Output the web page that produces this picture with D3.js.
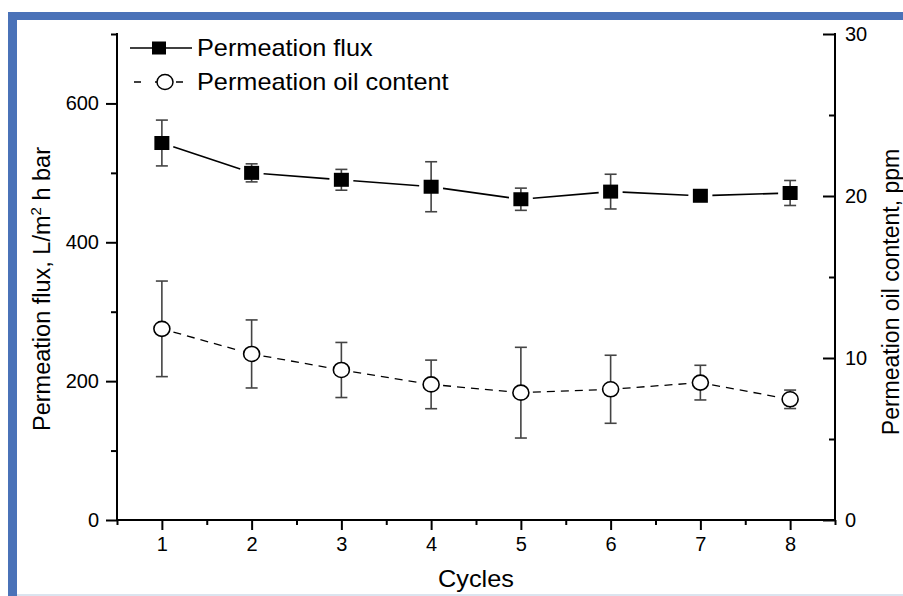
<!DOCTYPE html>
<html><head><meta charset="utf-8">
<script src="https://cdn.jsdelivr.net/npm/d3@7"></script>
<style>body{margin:0;background:#fff}svg{display:block}text{font-family:"Liberation Sans",Arial,sans-serif;fill:#000}</style>
</head><body>
<svg id="c" width="903" height="596"></svg>
<script>
const cycles = [1,2,3,4,5,6,7,8];
const fluxValues = [543,500,490,480,462,473,467,471];
const fluxErr = [33,13,15,36,16,25,4,18];
const oilValues = [11.8,10.25,9.26,8.37,7.86,8.07,8.48,7.45];
const oilErr = [2.95,2.1,1.7,1.5,2.8,2.1,1.07,0.57];
const leftTicks = [0,200,400,600];
const leftMinor = [100,300,500,700];
const rightTicks = [0,10,20,30];
const rightMinor = [5,15,25];
const xMinor = [0.5,1.5,2.5,3.5,4.5,5.5,6.5,7.5,8.5];
const seriesNames = ["Permeation flux","Permeation oil content"];

const svg = d3.select("#c");
const L=117,R=835,T=34,B=520;
const x = d3.scaleLinear().domain([0.5,8.5]).range([L,R]);
const yL = d3.scaleLinear().domain([0,700]).range([B,T]);
const yR = d3.scaleLinear().domain([0,30]).range([B,T]);

// frame decoration (blue border)
svg.append("rect").attr("x",8).attr("y",12).attr("width",895).attr("height",8).attr("fill","#4a72b8");
svg.append("rect").attr("x",8).attr("y",12).attr("width",9).attr("height",584).attr("fill","#4a72b8");
svg.append("rect").attr("x",17).attr("y",594).attr("width",886).attr("height",2).attr("fill","#dbe4ef");

const fs = 20;
function styleAxis(g){
  g.select(".domain").remove();
  g.selectAll("line").attr("stroke","#000").attr("stroke-width",2);
  g.selectAll("text").attr("font-size",fs).attr("font-family","Liberation Sans, Arial, sans-serif").attr("fill","#000");
}
// left axis
svg.append("g").attr("transform",`translate(${L},0)`).call(d3.axisLeft(yL).tickValues(leftTicks).tickSize(11).tickPadding(7)).call(styleAxis);
svg.append("g").attr("transform",`translate(${L},0)`).call(d3.axisLeft(yL).tickValues(leftMinor).tickSize(6).tickFormat("")).call(styleAxis);
// right axis (ticks inward)
svg.append("g").attr("transform",`translate(${R},0)`).call(d3.axisRight(yR).tickValues(rightTicks).tickSize(-12).tickPadding(10)).call(styleAxis);
svg.append("g").attr("transform",`translate(${R},0)`).call(d3.axisRight(yR).tickValues(rightMinor).tickSize(-6).tickFormat("")).call(styleAxis);
// bottom axis
svg.append("g").attr("transform",`translate(0,${B})`).call(d3.axisBottom(x).tickValues(cycles).tickSize(10).tickPadding(7)).call(styleAxis);
svg.append("g").attr("transform",`translate(0,${B})`).call(d3.axisBottom(x).tickValues(xMinor).tickSize(5).tickFormat("")).call(styleAxis);
// axis lines
svg.append("line").attr("x1",L).attr("x2",L).attr("y1",T-1).attr("y2",B+1).attr("stroke","#000").attr("stroke-width",2);
svg.append("line").attr("x1",R).attr("x2",R).attr("y1",T-1).attr("y2",B+1).attr("stroke","#000").attr("stroke-width",2);
svg.append("line").attr("x1",L-1).attr("x2",R+1).attr("y1",B).attr("y2",B).attr("stroke","#000").attr("stroke-width",2);

// data
const flux = cycles.map((c,i)=>({c,v:fluxValues[i],e:fluxErr[i]}));
const oil = cycles.map((c,i)=>({c,v:oilValues[i],e:oilErr[i]}));

function segments(data,y,gap){
  const out=[];
  for(let i=0;i<data.length-1;i++){
    const x1=x(data[i].c),y1=y(data[i].v),x2=x(data[i+1].c),y2=y(data[i+1].v);
    const dx=x2-x1,dy=y2-y1,len=Math.hypot(dx,dy),ux=dx/len,uy=dy/len;
    out.push([[x1+ux*gap,y1+uy*gap],[x2-ux*gap,y2-uy*gap]]);
  }
  return out;
}
const line = d3.line();
svg.append("g").selectAll("path").data(segments(flux,yL,12)).join("path")
  .attr("d",line).attr("stroke","#000").attr("stroke-width",1.6).attr("fill","none");
svg.append("g").selectAll("path").data(segments(oil,yR,12)).join("path")
  .attr("d",line).attr("stroke","#000").attr("stroke-width",1.3).attr("fill","none").attr("stroke-dasharray","8,6");

function errBars(data,y){
  const g=svg.append("g").attr("stroke","#444").attr("stroke-width",1.6);
  data.forEach(d=>{
    const cx=x(d.c);
    g.append("line").attr("x1",cx).attr("x2",cx).attr("y1",y(d.v+d.e)).attr("y2",y(d.v-d.e));
    g.append("line").attr("x1",cx-6).attr("x2",cx+6).attr("y1",y(d.v+d.e)).attr("y2",y(d.v+d.e));
    g.append("line").attr("x1",cx-6).attr("x2",cx+6).attr("y1",y(d.v-d.e)).attr("y2",y(d.v-d.e));
  });
}
errBars(flux,yL);
errBars(oil,yR);

svg.append("g").selectAll("rect").data(flux).join("rect")
  .attr("x",d=>x(d.c)-7.5).attr("y",d=>yL(d.v)-7).attr("width",15).attr("height",14).attr("fill","#000");
svg.append("g").selectAll("ellipse").data(oil).join("ellipse")
  .attr("cx",d=>x(d.c)).attr("cy",d=>yR(d.v)).attr("rx",8).attr("ry",7.5)
  .attr("fill","#fff").attr("stroke","#000").attr("stroke-width",1.6);

// legend
const lg = svg.append("g");
lg.append("line").attr("x1",130).attr("x2",192).attr("y1",48).attr("y2",48).attr("stroke","#000").attr("stroke-width",1.6);
lg.append("rect").attr("x",152).attr("y",41.5).attr("width",14).attr("height",13).attr("fill","#000");
lg.append("text").attr("transform","translate(197,56) scale(1.1,1)").attr("font-size",23).text(seriesNames[0]);
lg.append("line").attr("x1",134).attr("x2",186).attr("y1",82).attr("y2",82).attr("stroke","#000").attr("stroke-width",1.3).attr("stroke-dasharray","7,14");
lg.append("ellipse").attr("cx",165).attr("cy",82).attr("rx",8).attr("ry",7.5).attr("fill","#fff").attr("stroke","#000").attr("stroke-width",1.5);
lg.append("text").attr("transform","translate(197,90) scale(1.1,1)").attr("font-size",23).text(seriesNames[1]);

// axis titles
svg.append("text").attr("transform","translate(476,587) scale(1.1,1)").attr("text-anchor","middle").attr("font-size",23).text("Cycles");
const lt = svg.append("text").attr("transform","translate(50,289) rotate(-90)").attr("text-anchor","middle").attr("font-size",23.5);
lt.append("tspan").text("Permeation flux, L/m");
lt.append("tspan").attr("dy",-9).attr("font-size",15).text("2");
lt.append("tspan").attr("dy",9).text(" h bar");
svg.append("text").attr("transform","translate(899,292) rotate(-90)").attr("text-anchor","middle").attr("font-size",23).text("Permeation oil content, ppm");
</script>
</body></html>
